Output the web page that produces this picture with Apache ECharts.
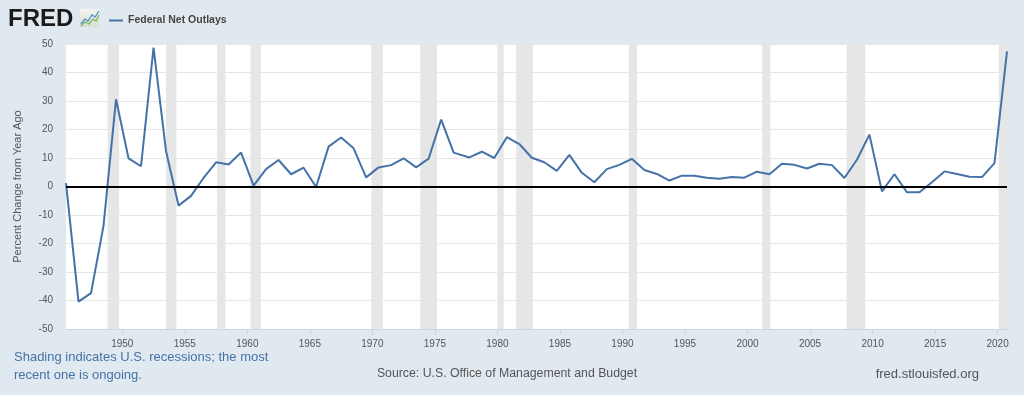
<!DOCTYPE html>
<html>
<head>
<meta charset="utf-8">
<script src="https://cdn.jsdelivr.net/npm/echarts@6/dist/echarts.min.js"></script>
<style>
html,body{margin:0;padding:0;background:#e1e9f0;}
#chart{width:1024px;height:395px;}
</style>
</head>
<body>
<div id="chart"></div>
<script>
// ---- Data ----
const fiscalYears = [
  1945,1946,1947,1948,1949,1950,1951,1952,1953,1954,1955,1956,1957,1958,1959,
  1960,1961,1962,1963,1964,1965,1966,1967,1968,1969,1970,1971,1972,1973,1974,
  1975,1976,1977,1978,1979,1980,1981,1982,1983,1984,1985,1986,1987,1988,1989,
  1990,1991,1992,1993,1994,1995,1996,1997,1998,1999,2000,2001,2002,2003,2004,
  2005,2006,2007,2008,2009,2010,2011,2012,2013,2014,2015,2016,2017,2018,2019,2020
];
const pctChange = [
  1.2,-40.4,-37.4,-13.8,30.6,9.9,7.1,48.7,12.4,-6.7,-3.3,3.0,8.5,7.7,11.9,
  0.3,6.1,9.3,4.3,6.6,-0.2,14.0,17.2,13.4,3.2,6.7,7.5,9.9,6.7,9.8,
  23.5,11.9,10.2,12.2,10.0,17.3,14.9,10.1,8.5,5.5,11.1,4.8,1.5,6.1,7.6,
  9.7,5.8,4.4,2.1,3.8,3.8,3.1,2.7,3.3,3.1,5.2,4.3,8.0,7.6,6.3,
  8.0,7.5,3.0,9.4,18.2,-1.7,4.3,-2.0,-2.0,1.5,5.3,4.4,3.4,3.3,8.2,47.4
];
// Recession periods (decimal years: peak month start -> trough month start)
const recessions = [
  [1948.83,1949.75],[1953.50,1954.33],[1957.58,1958.25],[1960.25,1961.08],
  [1969.92,1970.83],[1973.83,1975.17],[1980.00,1980.50],[1981.50,1982.83],
  [1990.50,1991.17],[2001.17,2001.83],[2007.92,2009.42],[2020.08,2020.75]
];
const xTickYears = [1950,1955,1960,1965,1970,1975,1980,1985,1990,1995,2000,2005,2010,2015,2020];
const seriesName = 'Federal Net Outlays';
const yAxisTitle = 'Percent Change from Year Ago';
const noteLines = ['Shading indicates U.S. recessions; the most', 'recent one is ongoing.'];
const sourceText = 'Source: U.S. Office of Management and Budget';
const siteText = 'fred.stlouisfed.org';

// fiscal-year observation date: FY ended June 30 before 1977, Sept 30 afterwards
function obsDate(y){ return y + (y < 1977 ? 0.5 : 0.75); }

const lineData = fiscalYears.map((y,i)=>[obsDate(y), pctChange[i]]);
const FONT = '"Liberation Sans", Arial, sans-serif';

const chart = echarts.init(document.getElementById('chart'), null, {renderer:'canvas'});
chart.setOption({
  animation:false,
  backgroundColor:'#e1e9f0',
  textStyle:{fontFamily:FONT},
  grid:{left:66,right:17,top:44,bottom:66,outerBoundsMode:'none',show:true,backgroundColor:'#ffffff',borderWidth:0},
  legend:{
    data:[seriesName],
    left:104, top:10,
    icon:'rect', itemWidth:14, itemHeight:2, itemGap:5,
    textStyle:{fontFamily:FONT,fontSize:10.5,fontWeight:'bold',color:'#444'}
  },
  xAxis:{
    type:'value', min:1945.5, max:2020.75,
    splitLine:{show:false},
    axisLine:{show:true,onZero:false,lineStyle:{color:'#ccd6eb',width:1}},
    axisTick:{show:true,customValues:xTickYears,length:6,lineStyle:{color:'#ccd6eb'}},
    axisLabel:{customValues:xTickYears,formatter:v=>String(v),fontSize:10,color:'#555',margin:10,fontFamily:FONT}
  },
  yAxis:{
    type:'value', min:-50, max:50, interval:10,
    name:yAxisTitle, nameLocation:'middle', nameGap:43, nameRotate:90,
    nameTextStyle:{fontSize:11,color:'#555',fontFamily:FONT},
    axisLine:{show:false}, axisTick:{show:false},
    axisLabel:{fontSize:10,color:'#555',margin:13,fontFamily:FONT},
    splitLine:{lineStyle:{color:'#e6e6e6',width:1}}
  },
  series:[
    {
      name:'recessions', type:'line', data:[], z:1, silent:true,
      markArea:{silent:true,itemStyle:{color:'#e6e6e6',opacity:1},
        emphasis:{disabled:true},
        data:recessions.map(r=>[{xAxis:r[0]},{xAxis:r[1]}])}
    },
    {
      name:'zero', type:'line', data:[], z:2, silent:true,
      markLine:{silent:true,symbol:['none','none'],label:{show:false},
        lineStyle:{color:'#000',width:2,type:'solid',opacity:1},data:[{yAxis:0}]}
    },
    {
      name:seriesName, type:'line', data:lineData, z:3,
      showSymbol:false, symbol:'none',
      lineStyle:{color:'#4572a7',width:2},
      itemStyle:{color:'#4572a7'}
    }
  ],
  graphic:[
    {type:'text',x:8,y:7,style:{text:'FRED',font:'bold 24px "Liberation Sans", Arial',fill:'#1b1b1b'}},
    {type:'group',x:80,y:9,children:[
      {type:'rect',shape:{x:0,y:0,width:20,height:18},style:{fill:{type:'linear',x:0,y:0,x2:0,y2:1,colorStops:[{offset:0,color:'#f2f4f2'},{offset:1,color:'#d5dfd0'}]}}},
      {type:'polyline',shape:{points:[[1,15],[5,10],[8,12],[12,6],[15,8],[19,2]]},style:{stroke:'#5b8fc7',lineWidth:1.3,fill:null}},
      {type:'polyline',shape:{points:[[1,17],[5,13],[9,15],[13,10],[16,12],[19,6]]},style:{stroke:'#7bb661',lineWidth:1.3,fill:null}}
    ]},
    {type:'text',x:14,y:357,style:{text:noteLines[0],font:'13px "Liberation Sans", Arial',fill:'#4572a7',textVerticalAlign:'middle'}},
    {type:'text',x:14,y:375,style:{text:noteLines[1],font:'13px "Liberation Sans", Arial',fill:'#4572a7',textVerticalAlign:'middle'}},
    {type:'text',x:507,y:374,style:{text:sourceText,font:'12.3px "Liberation Sans", Arial',fill:'#555',textAlign:'center',textVerticalAlign:'middle'}},
    {type:'text',x:979,y:374,style:{text:siteText,font:'13px "Liberation Sans", Arial',fill:'#555',textAlign:'right',textVerticalAlign:'middle'}}
  ]
});
</script>
</body>
</html>
